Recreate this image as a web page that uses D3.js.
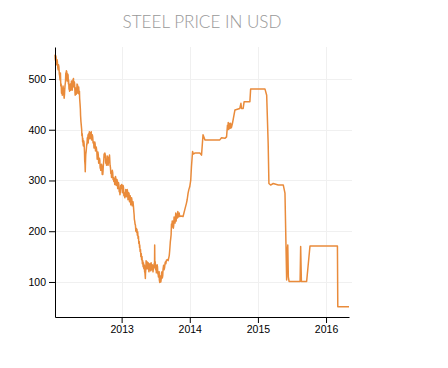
<!DOCTYPE html>
<html>
<head>
<meta charset="utf-8">
<script src="https://cdn.jsdelivr.net/npm/d3@7/dist/d3.min.js"></script>
<style>
  html, body { margin: 0; padding: 0; background: #fff; }
  svg { display: block; }
  .axis text { font-family: "Liberation Sans", Arial, sans-serif; font-size: 10.5px; fill: #000; }
  .axis path, .axis line { stroke: #000; }
</style>
</head>
<body>
<svg id="chart" width="448" height="368"></svg>
<script>
const title = "STEEL PRICE IN USD";
const yTickValues = [100, 200, 300, 400, 500];
const xTickLabels = ["2013", "2014", "2015", "2016"];
const xDomain = ["2012-01-10", "2016-05-03"];
const yDomain = [31, 563];

const dates = [
  "2012-01-10","2012-01-11","2012-01-13","2012-01-14","2012-01-16","2012-01-17","2012-01-19","2012-01-21","2012-01-23","2012-01-25",
  "2012-01-27","2012-01-29","2012-01-31","2012-02-02","2012-02-04","2012-02-06","2012-02-08","2012-02-10","2012-02-12","2012-02-14",
  "2012-02-16","2012-02-18","2012-02-20","2012-02-22","2012-02-24","2012-02-26","2012-02-28","2012-03-01","2012-03-02","2012-03-04",
  "2012-03-06","2012-03-08","2012-03-09","2012-03-11","2012-03-13","2012-03-15","2012-03-16","2012-03-18","2012-03-20","2012-03-22",
  "2012-03-23","2012-03-25","2012-03-26","2012-03-28","2012-03-30","2012-04-01","2012-04-03","2012-04-05","2012-04-07","2012-04-09",
  "2012-04-11","2012-04-13","2012-04-15","2012-04-18","2012-04-19","2012-04-21","2012-04-23","2012-04-24","2012-04-26","2012-04-27",
  "2012-04-29","2012-05-01","2012-05-03","2012-05-05","2012-05-07","2012-05-10","2012-05-12","2012-05-14","2012-05-16","2012-05-18",
  "2012-05-20","2012-05-21","2012-05-23","2012-05-25","2012-05-26","2012-05-28","2012-05-30","2012-06-01","2012-06-02","2012-06-04",
  "2012-06-06","2012-06-07","2012-06-09","2012-06-10","2012-06-12","2012-06-14","2012-06-16","2012-06-17","2012-06-19","2012-06-20",
  "2012-06-22","2012-06-23","2012-06-25","2012-06-26","2012-06-28","2012-06-29","2012-07-01","2012-07-03","2012-07-05","2012-07-06",
  "2012-07-08","2012-07-10","2012-07-12","2012-07-13","2012-07-15","2012-07-17","2012-07-19","2012-07-22","2012-07-24","2012-07-26",
  "2012-07-28","2012-07-30","2012-08-01","2012-08-04","2012-08-06","2012-08-08","2012-08-10","2012-08-12","2012-08-14","2012-08-16",
  "2012-08-18","2012-08-21","2012-08-23","2012-08-25","2012-08-27","2012-08-29","2012-08-31","2012-09-02","2012-09-04","2012-09-06",
  "2012-09-08","2012-09-09","2012-09-11","2012-09-13","2012-09-15","2012-09-17","2012-09-19","2012-09-20","2012-09-22","2012-09-23",
  "2012-09-25","2012-09-27","2012-09-29","2012-10-01","2012-10-03","2012-10-06","2012-10-08","2012-10-10","2012-10-12","2012-10-14",
  "2012-10-16","2012-10-18","2012-10-20","2012-10-22","2012-10-24","2012-10-26","2012-10-28","2012-10-29","2012-10-31","2012-11-02",
  "2012-11-04","2012-11-06","2012-11-08","2012-11-10","2012-11-12","2012-11-14","2012-11-16","2012-11-18","2012-11-20","2012-11-23",
  "2012-11-25","2012-11-27","2012-11-29","2012-12-01","2012-12-03","2012-12-05","2012-12-07","2012-12-09","2012-12-11","2012-12-13",
  "2012-12-15","2012-12-17","2012-12-19","2012-12-21","2012-12-23","2012-12-25","2012-12-27","2012-12-29","2013-01-01","2013-01-03",
  "2013-01-05","2013-01-07","2013-01-09","2013-01-11","2013-01-13","2013-01-15","2013-01-18","2013-01-21","2013-01-23","2013-01-25",
  "2013-01-27","2013-01-29","2013-01-31","2013-02-02","2013-02-04","2013-02-06","2013-02-08","2013-02-10","2013-02-12","2013-02-14",
  "2013-02-16","2013-02-17","2013-02-19","2013-02-21","2013-02-23","2013-02-25","2013-02-27","2013-03-01","2013-03-03","2013-03-05",
  "2013-03-07","2013-03-09","2013-03-10","2013-03-12","2013-03-14","2013-03-16","2013-03-18","2013-03-20","2013-03-22","2013-03-24",
  "2013-03-26","2013-03-28","2013-03-30","2013-04-01","2013-04-03","2013-04-05","2013-04-07","2013-04-08","2013-04-10","2013-04-12",
  "2013-04-14","2013-04-16","2013-04-18","2013-04-20","2013-04-22","2013-04-24","2013-04-26","2013-04-28","2013-04-30","2013-05-03",
  "2013-05-04","2013-05-06","2013-05-08","2013-05-09","2013-05-11","2013-05-12","2013-05-14","2013-05-15","2013-05-17","2013-05-19",
  "2013-05-21","2013-05-23","2013-05-25","2013-05-27","2013-05-29","2013-06-01","2013-06-04","2013-06-06","2013-06-08","2013-06-10",
  "2013-06-12","2013-06-14","2013-06-16","2013-06-18","2013-06-20","2013-06-22","2013-06-24","2013-06-26","2013-06-27","2013-06-28",
  "2013-06-30","2013-07-02","2013-07-04","2013-07-06","2013-07-08","2013-07-10","2013-07-12","2013-07-14","2013-07-15","2013-07-17",
  "2013-07-19","2013-07-21","2013-07-22","2013-07-24","2013-07-26","2013-07-28","2013-07-30","2013-08-01","2013-08-03","2013-08-05",
  "2013-08-07","2013-08-09","2013-08-11","2013-08-14","2013-08-16","2013-08-19","2013-08-22","2013-08-24","2013-08-26","2013-08-29",
  "2013-09-03","2013-09-07","2013-09-10","2013-09-13","2013-09-15","2013-09-17","2013-09-19","2013-09-21","2013-09-23","2013-09-25",
  "2013-09-27","2013-09-29","2013-10-01","2013-10-03","2013-10-05","2013-10-07","2013-10-09","2013-10-11","2013-10-14","2013-10-16",
  "2013-10-18","2013-10-20","2013-10-22","2013-10-25","2013-10-27","2013-10-29","2013-10-31","2013-11-02","2013-11-05","2013-11-08",
  "2013-11-15","2013-11-26","2013-12-05","2013-12-14","2013-12-18","2013-12-23","2013-12-27","2014-01-01","2014-01-06","2014-01-10",
  "2014-01-16","2014-01-20","2014-01-28","2014-02-24","2014-03-05","2014-03-13","2014-03-23","2014-06-11","2014-06-20","2014-07-08",
  "2014-07-17","2014-07-22","2014-07-24","2014-07-26","2014-07-28","2014-07-30","2014-08-01","2014-08-04","2014-08-06","2014-08-08",
  "2014-08-12","2014-08-18","2014-08-31","2014-09-26","2014-10-02","2014-10-05","2014-10-14","2014-10-19","2014-11-19","2014-11-23",
  "2015-02-08","2015-02-17","2015-02-25","2015-03-01","2015-03-10","2015-03-24","2015-04-20","2015-05-17","2015-05-26","2015-06-04",
  "2015-06-07","2015-06-10","2015-06-13","2015-06-17","2015-08-15","2015-08-18","2015-08-22","2015-09-19","2015-10-07","2016-03-02",
  "2016-03-04","2016-05-03"
];
const prices = [
  548,540,536,546,542,530,528,538,533,522,
  518,528,524,510,506,498,512,486,490,472,
  482,468,474,486,480,470,462,470,478,488,
  494,512,506,516,514,496,500,510,508,490,
  498,480,486,476,484,490,478,482,496,492,
  478,486,498,501,488,484,494,490,474,468,
  482,480,470,474,490,488,472,476,484,470,
  476,462,452,440,428,416,408,400,388,392,
  376,383,370,368,378,372,356,340,330,317,
  344,352,358,362,372,370,384,380,390,374,
  392,386,396,390,382,384,394,396,380,382,
  390,386,374,376,364,368,376,372,358,360,
  366,357,342,346,356,350,334,336,344,340,
  324,330,320,324,332,328,312,318,312,317,
  330,338,352,346,354,350,334,340,330,337,
  348,346,330,334,346,342,350,344,330,326,
  314,318,306,311,320,316,302,306,298,304,
  292,298,308,304,290,292,302,298,284,288,
  296,292,278,282,272,278,290,284,292,291,
  276,280,290,286,270,276,266,271,282,280,
  268,272,282,278,262,268,276,274,258,262,
  270,265,252,258,266,262,250,254,258,250,
  240,232,224,220,214,212,200,206,198,204,
  192,199,186,190,176,180,168,173,160,164,
  150,156,144,150,136,142,130,138,126,133,
  120,118,107,118,128,142,136,126,140,132,
  126,138,134,120,124,136,130,122,138,128,
  124,134,132,120,127,130,136,128,173,132,
  140,124,133,118,126,134,130,116,120,110,
  112,120,104,99,108,112,100,106,118,120,
  108,112,126,133,124,128,138,140,136,143,
  144,142,147,152,160,170,180,186,193,214,
  208,220,214,219,206,212,228,224,216,226,
  236,220,230,234,226,239,228,232,236,229,
  230,229,242,255,262,275,282,288,300,327,
  357,352,354,354,350,390,380,380,384,383,
  386,409,400,414,401,413,402,412,403,413,
  404,413,439,442,452,442,442,455,455,480,
  480,468,373,294,291,294,291,291,275,104,
  160,173,110,101,101,170,101,101,171,171,
  51,51
];

const svg = d3.select("#chart");
const mLeft = 55, mRight = 349, mTop = 47, mBottom = 317;

const parse = d3.utcParse("%Y-%m-%d");
const n = Math.min(dates.length, prices.length);
const data = d3.range(n).map(i => ({ date: parse(dates[i]), value: prices[i] }));

const x = d3.scaleUtc().domain(xDomain.map(parse)).range([mLeft, mRight]);
const y = d3.scaleLinear().domain(yDomain).range([mBottom, mTop]);

const xTicks = xTickLabels.map(s => parse(s + "-01-01"));

// grid
const grid = svg.append("g");
grid.selectAll("line.h").data(yTickValues).join("line")
  .attr("x1", mLeft).attr("x2", mRight + 3)
  .attr("y1", d => Math.round(y(d)) + 0.5).attr("y2", d => Math.round(y(d)) + 0.5)
  .attr("stroke", "#f0f0f0").attr("stroke-width", 1);
grid.selectAll("line.v").data(xTicks).join("line")
  .attr("x1", d => Math.round(x(d)) + 0.5).attr("x2", d => Math.round(x(d)) + 0.5)
  .attr("y1", mTop).attr("y2", mBottom)
  .attr("stroke", "#f0f0f0").attr("stroke-width", 1);

// line
const line = d3.line().x(d => x(d.date)).y(d => y(d.value));
svg.append("path").datum(data)
  .attr("fill", "none")
  .attr("stroke", "#e98b3b")
  .attr("stroke-width", 1.5)
  .attr("stroke-linejoin", "round")
  .attr("d", line);

// axes
svg.append("g").attr("class", "axis")
  .attr("transform", `translate(${mLeft},0)`)
  .call(d3.axisLeft(y).tickValues(yTickValues).tickSizeOuter(0));

svg.append("g").attr("class", "axis")
  .attr("transform", `translate(0,${mBottom})`)
  .call(d3.axisBottom(x).tickValues(xTicks).tickFormat((d, i) => xTickLabels[i]).tickSizeOuter(0));

// title
const t = svg.append("text")
  .attr("x", (mLeft + mRight) / 2)
  .attr("y", 27.5)
  .attr("text-anchor", "middle")
  .attr("font-family", "Lato, 'Liberation Sans', sans-serif")
  .attr("font-weight", 300)
  .attr("font-size", 16)
  .attr("fill", "#999")
  .text(title);
const w = t.node().getComputedTextLength();
t.attr("font-size", 16 * 159 / w);
</script>
</body>
</html>
